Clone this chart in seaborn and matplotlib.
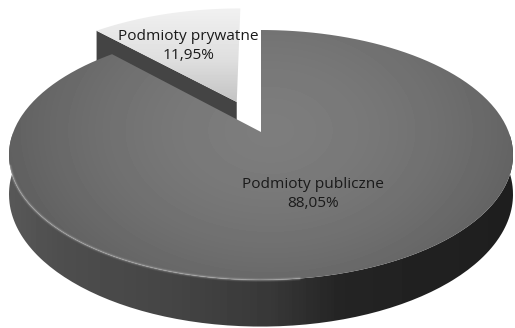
import numpy as np
import matplotlib
matplotlib.use("Agg")
import matplotlib.pyplot as plt
import seaborn as sns
from matplotlib.path import Path
from matplotlib.patches import PathPatch
from matplotlib.transforms import Affine2D

# Shares of the two groups of entities
categories = ["Podmioty publiczne", "Podmioty prywatne"]
shares = [88.05, 11.95]
share_labels = ["88,05%", "11,95%"]

W, H = 515, 328
sns.set_theme(style="white")
plt.rcParams["font.family"] = ["Open Sans", "DejaVu Sans"]

fig = plt.figure(figsize=(W / 100, H / 100), dpi=100)
ax = fig.add_axes([0, 0, 1, 1])

wedges, _ = ax.pie(shares, startangle=90, counterclock=False, explode=[0, 0.28], radius=1)


def tilt(pts, drop=0.0):
    """Project flat pie coordinates onto the tilted disc, in pixels."""
    u, v = pts[:, 0], pts[:, 1]
    w = 1 + 0.184 * v
    return np.column_stack([261 + 247.7 * u / w, (132 - 96.48 * v + drop) / w])


def flatten(wedge):
    scale = Affine2D().scale(1500)
    return wedge.get_path().transformed(scale).to_polygons()[0] / 1500


flat = [flatten(w) for w in wedges]
rims = [p[np.hypot(*(p - np.array(w.center)).T) > 0.99] for p, w in zip(flat, wedges)]
tips = [np.array([w.center]) for w in wedges]
for w in wedges:
    w.remove()

DEPTH = 38


def filled(poly, image, extent, z):
    patch = PathPatch(Path(poly), fc="none", ec="none", transform=ax.transData)
    ax.add_patch(patch)
    im = ax.imshow(image, extent=extent, cmap="gray", vmin=0, vmax=255,
                   aspect="auto", zorder=z, interpolation="bilinear")
    im.set_clip_path(patch)
    return im


xx, yy = np.meshgrid(np.arange(W), np.arange(H))
extent = (0, W, H, 0)

# Exploded slice: dark cut wall along its left straight edge, then the pale top face
left_end = rims[1][np.argmin(rims[1][:, 0])][None, :]
edge = np.vstack([left_end, tips[1]])
wall = np.vstack([tilt(edge), tilt(edge, DEPTH)[::-1]])
filled(wall, np.full((H, W), 68.0), extent, 1)
face = np.interp(yy, [10, 60, 105], [240, 222, 192])
filled(tilt(flat[1]), face, extent, 2)

# Main slice: side band on the front half only, then shaded top face
front_half = rims[0][rims[0][:, 1] < 0]
front_half = front_half[np.argsort(np.arctan2(front_half[:, 0], -front_half[:, 1]))]
arc_top = tilt(front_half)
arc_low = tilt(front_half, DEPTH)
band = np.vstack([arc_top, arc_low[::-1]])
side = np.interp(xx, [8, 60, 180, 270, 340, 513], [88, 78, 68, 56, 36, 30])
filled(band, side, extent, 3)

main_top = tilt(flat[0])
r = np.hypot((xx - 270) / 300, (yy - 130) / 210)
shade = 125 - 36 * np.clip(r, 0, 1.2) ** 1.7
filled(main_top, shade, extent, 4)

# Soft highlight along the front edge of the disc, fading towards the right
front = arc_top[(arc_top[:, 1] > 165) & (arc_top[:, 0] < 300)]
for lw, a in [(3.0, 0.06), (1.8, 0.10), (1.0, 0.14)]:
    ax.plot(front[:, 0], front[:, 1], color="white", lw=lw, alpha=a, zorder=5,
            solid_capstyle="round")

ax.set_xlim(0, W)
ax.set_ylim(H, 0)
ax.set_aspect("auto")
ax.axis("off")

ax.text(188, 46, f"{categories[1]}\n{share_labels[1]}", ha="center", va="center",
        fontsize=11.1, color="#1a1a1a", zorder=6, linespacing=1.35)
ax.text(313, 194, f"{categories[0]}\n{share_labels[0]}", ha="center", va="center",
        fontsize=11.1, color="#1a1a1a", zorder=6, linespacing=1.3)

fig.savefig("out.png", dpi=100, facecolor="white")
